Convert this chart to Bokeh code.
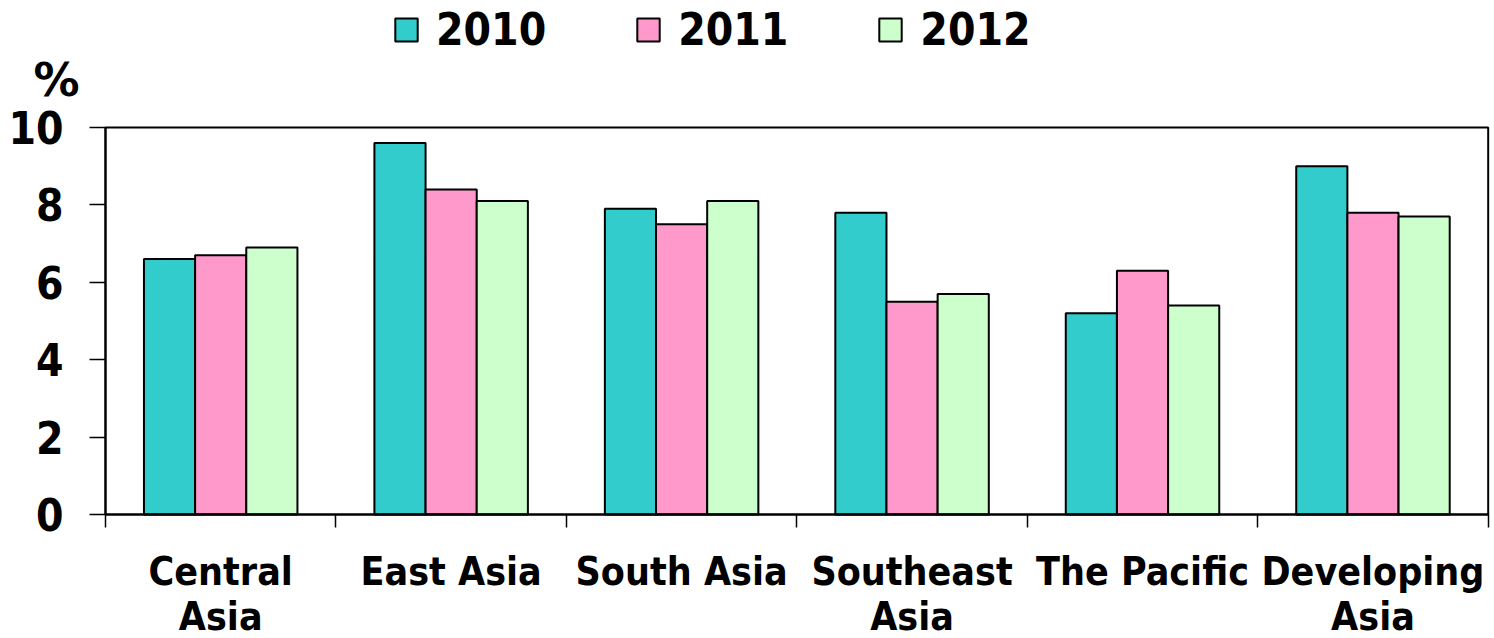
from bokeh.plotting import figure
from bokeh.models import (Range1d, FixedTicker, LinearAxis, Legend, LegendItem,
                          Label, ColumnDataSource)
from bokeh.embed import file_html
from bokeh.resources import INLINE

# GDP growth by subregion, percent
regions = ["Central\nAsia", "East Asia", "South Asia", "Southeast\nAsia",
           "The Pacific", "Developing\nAsia"]
years = ["2010", "2011", "2012"]
g2010 = [6.6, 9.6, 7.9, 7.8, 5.2, 9.0]
g2011 = [6.7, 8.4, 7.5, 5.5, 6.3, 7.8]
g2012 = [6.9, 8.1, 8.1, 5.7, 5.4, 7.7]
y_ticks = [0, 2, 4, 6, 8, 10]
y_max = 10

colors = ["#33CCCC", "#FF99CC", "#CCFFCC"]
FONT = "DejaVu Sans Condensed"
n = len(regions)

# The frame covers the whole canvas, so both axes are pinned inside it and the
# legend / unit label share the same drawing space.
p = figure(width=1494, height=638, output_backend="svg", toolbar_location=None,
           x_range=Range1d(-0.4555, n + 0.01), y_range=Range1d(-3.204, 13.282),
           x_axis_type=None, y_axis_type=None,
           min_border_left=0, min_border_right=4,
           min_border_top=0, min_border_bottom=0)
p.grid.visible = False
p.outline_line_color = None
p.background_fill_color = "white"
p.border_fill_color = "white"

bar_w = 0.222
offsets = [-bar_w, 0.0, bar_w]
renderers = []
for series, color, off in zip([g2010, g2011, g2012], colors, offsets):
    src = ColumnDataSource(dict(x=[i + 0.5 + off for i in range(n)], top=series))
    r = p.vbar(x="x", top="top", width=bar_w, bottom=0, source=src,
               fill_color=color, line_color="black", line_width=2)
    renderers.append(r)

# plot-area box (top and right edges)
p.quad(left=[0], right=[n], bottom=[0], top=[y_max], fill_color=None,
       line_color="black", line_width=2)

# y axis, pinned at x=0
yaxis = LinearAxis(ticker=FixedTicker(ticks=y_ticks), fixed_location=0,
                   bounds=(0, y_max))
yaxis.axis_line_width = 2
yaxis.major_tick_out = 16
yaxis.major_tick_in = 0
yaxis.major_tick_line_width = 1.5
yaxis.minor_tick_line_color = None
yaxis.major_label_text_font = FONT
yaxis.major_label_text_font_style = "bold"
yaxis.major_label_text_font_size = "44px"
yaxis.major_label_text_color = "black"
yaxis.major_label_standoff = 26
p.add_layout(yaxis, "left")

# x axis pinned at y=0: labels at group centres, tick marks at group boundaries
centres = [i + 0.5 for i in range(n)]
xaxis = LinearAxis(ticker=FixedTicker(ticks=centres, minor_ticks=list(range(n + 1))),
                   fixed_location=0, bounds=(0, n))
xaxis.major_label_overrides = {c: name for c, name in zip(centres, regions)}
xaxis.axis_line_width = 2
xaxis.major_tick_line_color = None
xaxis.minor_tick_out = 13
xaxis.minor_tick_in = 0
xaxis.minor_tick_line_width = 1.5
xaxis.minor_tick_line_color = "black"
xaxis.major_label_text_font = FONT
xaxis.major_label_text_font_style = "bold"
xaxis.major_label_text_font_size = "39px"
xaxis.major_label_text_line_height = 1.0
xaxis.major_label_text_color = "black"
xaxis.major_label_standoff = 21
p.add_layout(xaxis, "below")

legend = Legend(items=[LegendItem(label=y, renderers=[r]) for y, r in zip(years, renderers)],
                orientation="horizontal", location=(392, 583),
                glyph_width=28, glyph_height=29, label_standoff=16,
                label_width=110, spacing=88, padding=0, margin=0,
                label_text_font=FONT, label_text_font_style="bold",
                label_text_font_size="44px", label_text_color="black",
                border_line_color=None, background_fill_alpha=0)
p.add_layout(legend, "center")

unit = Label(x=-0.312, y=11.22, text="%", text_font="DejaVu Sans",
             text_font_style="bold", text_font_size="46px", text_color="black",
             text_baseline="alphabetic")
p.add_layout(unit)

open("out.html", "w").write(file_html(p, INLINE))
